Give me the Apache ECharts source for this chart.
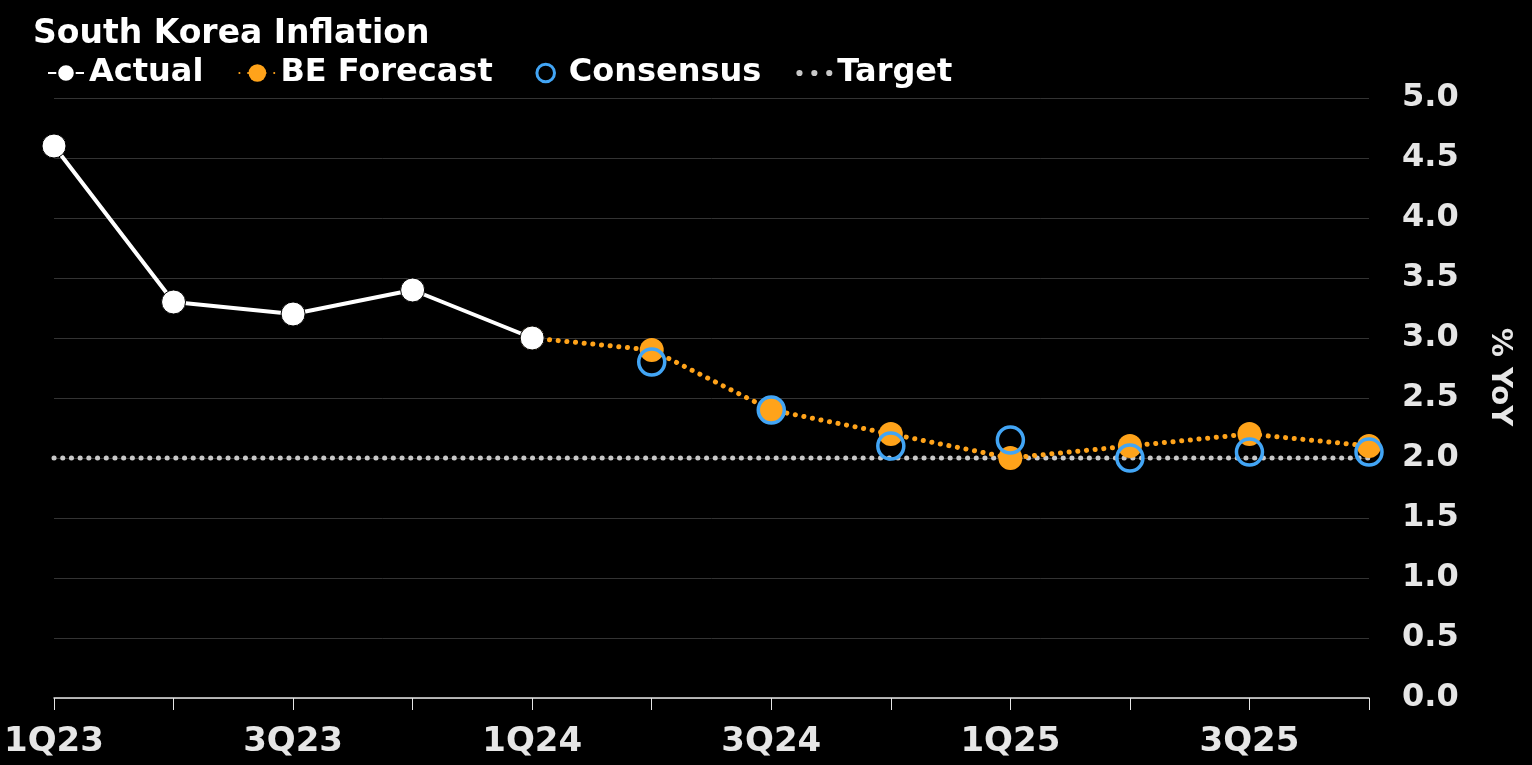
<!DOCTYPE html>
<html><head><meta charset="utf-8">
<script src="https://cdn.jsdelivr.net/npm/echarts@6/dist/echarts.min.js"></script>
<style>html,body{margin:0;padding:0;background:#000;}#c{width:1532px;height:765px;}</style>
</head><body><div id="c"></div>
<script>
const categories = ['1Q23','2Q23','3Q23','4Q23','1Q24','2Q24','3Q24','4Q24','1Q25','2Q25','3Q25','4Q25'];
const actual =   [4.6, 3.3, 3.2, 3.4, 3.0, null, null, null, null, null, null, null];
const forecast = [null, null, null, null, 3.0, 2.9, 2.4, 2.2, 2.0, 2.1, 2.2, 2.1];
const consensus = [null, null, null, null, null, 2.8, 2.4, 2.1, 2.15, 2.0, 2.05, 2.05];
const target =   [2, 2, 2, 2, 2, 2, 2, 2, 2, 2, 2, 2];
const yTicks = [0, 0.5, 1, 1.5, 2, 2.5, 3, 3.5, 4, 4.5, 5];

const font = '"DejaVu Sans", sans-serif';
const dots = 'path://M0,2.5a2.5,2.5 0 1,0 5,0a2.5,2.5 0 1,0 -5,0M12,2.5a2.5,2.5 0 1,0 5,0a2.5,2.5 0 1,0 -5,0M24,2.5a2.5,2.5 0 1,0 5,0a2.5,2.5 0 1,0 -5,0';
const chart = echarts.init(document.getElementById('c'));
chart.setOption({
  backgroundColor: '#000',
  animation: false,
  title: {
    text: 'South Korea Inflation', left: 28, top: 13,
    textStyle: {color: '#fff', fontFamily: font, fontWeight: 'bold', fontSize: 33}
  },
  legend: {
    left: 42, top: 52, itemGap: 35, itemWidth: 36, itemHeight: 22,
    textStyle: {color: '#fff', fontFamily: font, fontWeight: 'bold', fontSize: 32},
    data: ['Actual', 'BE Forecast', {name: 'Consensus', itemStyle: {borderWidth: 3}},
           {name: 'Target', icon: dots, itemStyle: {color: '#c8c8c8'}, lineStyle: {opacity: 0}}]
  },
  grid: {left: 54, right: 163, top: 98, bottom: 67, containLabel: false},
  xAxis: {
    type: 'category', data: categories, boundaryGap: false,
    axisLine: {lineStyle: {color: '#e6e6e6', width: 1.5}},
    axisTick: {show: true, length: 12, interval: 0, lineStyle: {color: '#e6e6e6', width: 1}},
    axisLabel: {interval: 1, color: '#e6e6e6', fontFamily: font, fontWeight: 'bold', fontSize: 34, margin: 27},
    splitLine: {show: false}
  },
  yAxis: {
    type: 'value', position: 'right', min: 0, max: 5, interval: 0.5,
    axisLine: {show: false}, axisTick: {show: false},
    axisLabel: {color: '#e6e6e6', fontFamily: font, fontWeight: 'bold', fontSize: 32, margin: 33,
      formatter: v => yTicks.includes(v) ? v.toFixed(1) : ''},
    splitLine: {lineStyle: {color: '#333', width: 1}}
  },
  graphic: [{
    type: 'text', x: 1500, y: 377, rotation: -Math.PI / 2,
    style: {text: '% YoY', fill: '#e6e6e6', font: 'bold 29px "DejaVu Sans", sans-serif', align: 'center', verticalAlign: 'middle'}
  }],
  series: [
    {name: 'Target', type: 'line', data: target, symbol: 'none', z: 1,
     lineStyle: {color: '#c8c8c8', width: 5, type: [0.1, 8.6], cap: 'round'}, itemStyle: {color: '#c8c8c8'}},
    {name: 'BE Forecast', type: 'line', data: forecast, symbol: 'circle', symbolSize: 24, z: 2,
     lineStyle: {color: '#ffa31a', width: 5, type: [0.1, 8.6], cap: 'round'}, itemStyle: {color: '#ffa31a'}},
    {name: 'Consensus', type: 'line', data: consensus, symbol: 'circle', symbolSize: 26, z: 3,
     lineStyle: {width: 0, opacity: 0}, itemStyle: {color: 'rgba(0,0,0,0)', borderColor: '#42a5f5', borderWidth: 3.5}},
    {name: 'Actual', type: 'line', data: actual, symbol: 'circle', symbolSize: 24, z: 4,
     lineStyle: {color: '#fff', width: 4}, itemStyle: {color: '#fff', borderColor: '#000', borderWidth: 1}}
  ]
});
</script></body></html>
